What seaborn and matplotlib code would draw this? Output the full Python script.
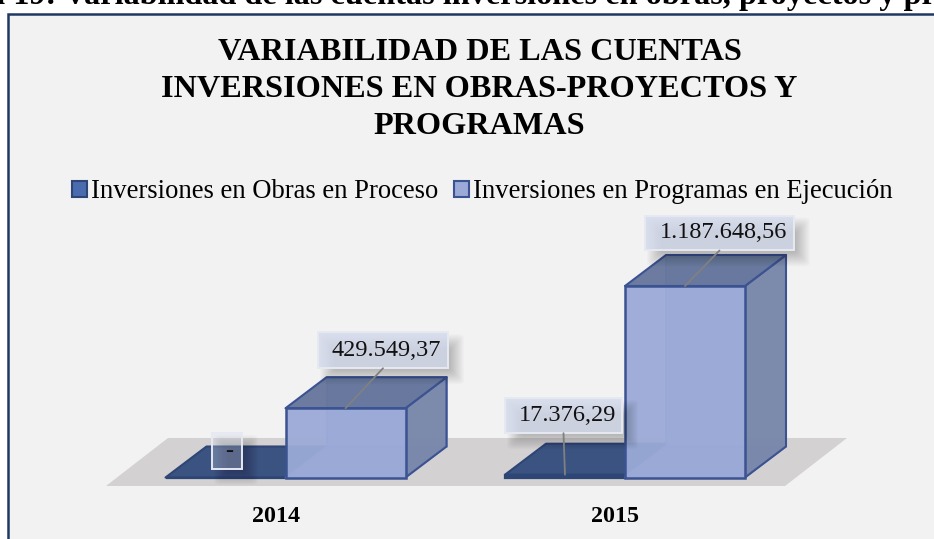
import matplotlib
matplotlib.use('Agg')
import numpy as np
import pandas as pd
import matplotlib.pyplot as plt
import seaborn as sns
from matplotlib.colors import to_rgba
from matplotlib.patches import Polygon, Rectangle, FancyBboxPatch

W, H = 934, 539

years = ["2014", "2015"]
series = ["Inversiones en Obras en Proceso", "Inversiones en Programas en Ejecución"]
obras = [0.0, 17376.29]
programas = [429549.37, 1187648.56]
labels_obras = ["-", "17.376,29"]
labels_programas = ["429.549,37", "1.187.648,56"]
title_lines = ["VARIABILIDAD DE LAS CUENTAS", "INVERSIONES EN OBRAS-PROYECTOS Y", "PROGRAMAS"]
heading = "a 19: Variabilidad de las cuentas inversiones en obras, proyectos y programas"

sns.set_theme(style="white")
plt.rcParams['font.family'] = ['Liberation Serif', 'DejaVu Serif']

FS = 17.5
NAVY = "#1f3864"
BG = "#f2f2f2"
C_DARK = "#4a6cae"
C_LIGHT = "#9baad7"
EDGE_DARK = "#2e4675"
EDGE_LIGHT = "#3c5392"

def fx(x):
    return x / W

def fy(y):
    return 1 - y / H

df = pd.DataFrame({
    "year": years * 2,
    "serie": [series[0]] * 2 + [series[1]] * 2,
    "valor": obras + programas,
})

fig = plt.figure(figsize=(W / 100, H / 100), dpi=100, facecolor="white")

# panel and gray floor sit behind the axes
fig.patches.append(Rectangle((fx(7.5), fy(560)), fx(1000), fy(14) - fy(560), transform=fig.transFigure,
                             facecolor=BG, edgecolor=NAVY, linewidth=1.8, figure=fig, zorder=-3))
floor = [(106, 486), (168, 438), (847, 438), (785, 486)]
fig.patches.append(Polygon([(fx(a), fy(b)) for a, b in floor], closed=True, transform=fig.transFigure,
                           facecolor="#d3d1d2", edgecolor="none", figure=fig, zorder=-2))

fig.text(-0.012, fy(4), heading, fontsize=23.2, fontweight="bold", va="baseline", ha="left", color="black")
for txt, yy in zip(title_lines, [53, 89.6, 127]):
    fig.text(fx(479.5), fy(yy), txt, fontsize=23.2, fontweight="bold", ha="center", va="center", color="black")

# 1 category = 339.5 px, baseline at y=477.5 px, 1187648 = 191.5 px
left, right = 285.5 - 169.75, 625 + 169.75
top = 200
ax = fig.add_axes([fx(left), fy(477.5), fx(right - left), fy(top) - fy(477.5)])
ax.patch.set_visible(False)

sns.barplot(data=df, x="year", y="valor", hue="serie", hue_order=series,
            palette=[C_DARK, C_LIGHT], width=240 / 339.5, gap=0, saturation=1, ax=ax)

px_y = 191.5 / programas[1]
ax.set_xlim(-0.5, 1.5)
ax.set_ylim(0, (477.5 - top) / px_y)
ddx = 41 / 339.5
ddy = 31 / px_y

def face(pts, color, alpha, edge, z, lw=1.5):
    ax.add_patch(Polygon(pts, closed=True, facecolor=to_rgba(color, alpha), edgecolor=edge,
                         linewidth=lw, zorder=z, clip_on=False, joinstyle="round"))

for bar in ax.containers[0]:
    x0, x1 = bar.get_x(), bar.get_x() + bar.get_width()
    h = bar.get_height()
    face([(x0, h), (x1, h), (x1 + ddx, h + ddy), (x0 + ddx, h + ddy)], "#3a5380", 1, EDGE_DARK, 2)
    bar.set_facecolor(EDGE_DARK)
    bar.set_edgecolor(EDGE_DARK)
    bar.set_linewidth(1.6)
    bar.set_zorder(3)
    bar.set_clip_on(False)

for bar in ax.containers[1]:
    x0, x1 = bar.get_x(), bar.get_x() + bar.get_width()
    h = bar.get_height()
    back_edge = to_rgba("#7d90c8", 0.9)
    face([(x0 + ddx, ddy), (x1 + ddx, ddy), (x1 + ddx, h + ddy), (x0 + ddx, h + ddy)], "#8d9dce", 0.75, back_edge, 4, 1.2)
    face([(x0, 0), (x1, 0), (x1 + ddx, ddy), (x0 + ddx, ddy)], "#8494c8", 0.9, back_edge, 4, 1.2)
    face([(x1, 0), (x1 + ddx, ddy), (x1 + ddx, h + ddy), (x1, h)], "#7a89aa", 0.95, EDGE_LIGHT, 5)
    face([(x0, h), (x1, h), (x1 + ddx, h + ddy), (x0 + ddx, h + ddy)], "#65759b", 0.95, EDGE_LIGHT, 5)
    bar.set_facecolor(to_rgba(C_LIGHT, 0.95))
    bar.set_edgecolor(EDGE_LIGHT)
    bar.set_linewidth(1.8)
    bar.set_zorder(6)
    bar.set_clip_on(False)

def shadow(x0, y0, x1, y1):
    # soft drop shadow built from stacked translucent boxes
    for grow in range(7, -8, -1):
        ax.add_patch(FancyBboxPatch((fx(x0 + 9 - grow), fy(y1 + 9 + grow)),
                                    fx(x1 - x0 + 2 * grow), fy(y0) - fy(y1 + 2 * grow),
                                    boxstyle="round,pad=0,rounding_size=0.006", transform=fig.transFigure,
                                    facecolor="black", alpha=0.017, edgecolor="none", zorder=7, clip_on=False))

def label(bar, txt, off_x, off_y, w, h, leader=True, box_alpha=0.78, txt_dx=4, txt_dy=0):
    xc = bar.get_x() + bar.get_width() / 2
    yv = bar.get_height()
    cx = left + (xc + 0.5) * 339.5 + off_x
    cy = 477.5 - yv * px_y - off_y
    shadow(cx - w / 2, cy - h / 2, cx + w / 2, cy + h / 2)
    ax.add_patch(Rectangle((fx(cx - w / 2), fy(cy + h / 2)), fx(w), fy(cy - h / 2) - fy(cy + h / 2),
                           transform=fig.transFigure, facecolor=to_rgba("#d2d9ec", box_alpha), edgecolor="#e6e9f2",
                           linewidth=1.4, zorder=8, clip_on=False))
    if leader:
        ax.annotate("", xy=(xc, yv), xytext=(off_x * 0.72, (off_y - h / 2) * 0.72), textcoords="offset points",
                    arrowprops=dict(arrowstyle="-", color="#808080", lw=1.3, shrinkA=0, shrinkB=0),
                    zorder=9, annotation_clip=False)
    ax.text(fx(cx + txt_dx), fy(cy + txt_dy), txt, transform=fig.transFigure, fontsize=FS, ha="center", va="center",
            color="#111111", zorder=10, clip_on=False)

b0, b1 = ax.containers[0], ax.containers[1]
label(b0[0], labels_obras[0], 1.5, 26.5, 30, 36, leader=False, box_alpha=0.3, txt_dx=2, txt_dy=1)
label(b0[1], labels_obras[1], -1.5, 59, 117, 35)
label(b1[0], labels_programas[0], 37.5, 58, 130, 36, txt_dx=3)
label(b1[1], labels_programas[1], 34.5, 53, 149, 35)

ax.set_xticks(np.arange(2) - 9.5 / 339.5, years, fontsize=17.3, fontweight="bold", color="black")
ax.set_yticks([])
ax.tick_params(axis="x", length=0, pad=20.5)
ax.set_xlabel("")
ax.set_ylabel("")
sns.despine(ax=ax, left=True, bottom=True)

sns.move_legend(ax, "center", bbox_to_anchor=(fx(482.5), fy(192)), bbox_transform=fig.transFigure, ncol=2,
                title=None, frameon=False, fontsize=19.2, handlelength=0.56, handleheight=0.56,
                handletextpad=0.15, columnspacing=0.6, borderpad=0)
leg = ax.get_legend()
plt.setp(leg.get_texts(), color="black")
for hnd, c, e in zip(leg.legend_handles, [C_DARK, C_LIGHT], [EDGE_DARK, EDGE_LIGHT]):
    hnd.set_facecolor(c)
    hnd.set_edgecolor(e)
    hnd.set_linewidth(1.5)

fig.savefig("out.png", dpi=100)
plt.close(fig)
